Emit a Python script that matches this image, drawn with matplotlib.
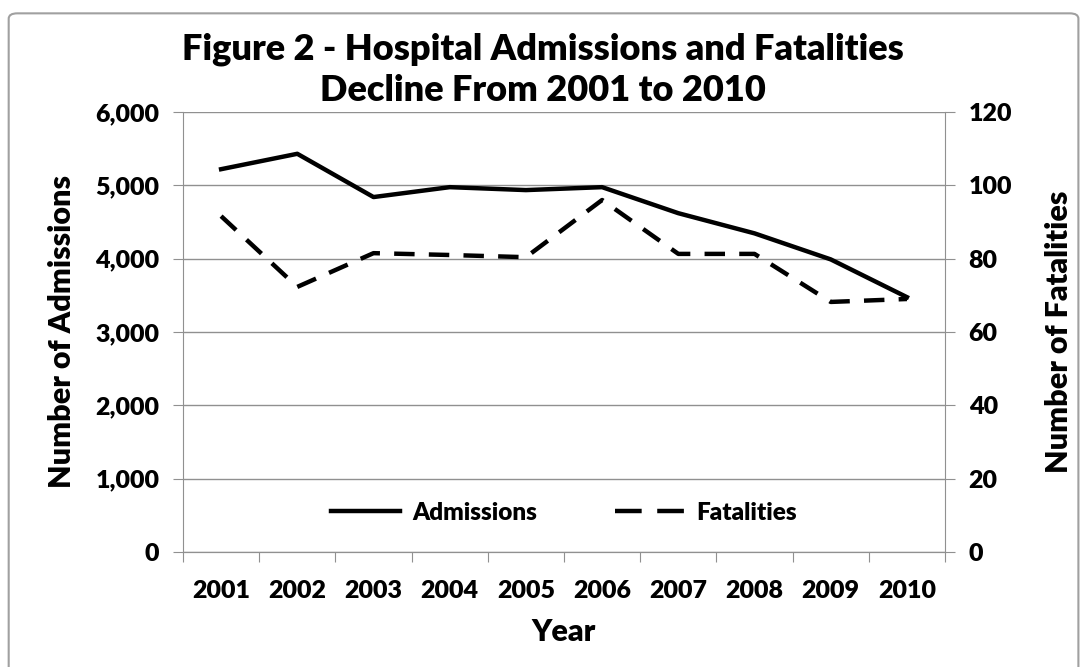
import numpy as np
import matplotlib
matplotlib.use("Agg")
import matplotlib.pyplot as plt
from matplotlib.patches import FancyBboxPatch
from matplotlib.lines import Line2D
from matplotlib.ticker import FuncFormatter

years = ["2001", "2002", "2003", "2004", "2005", "2006", "2007", "2008", "2009", "2010"]
admissions = [5220, 5430, 4840, 4975, 4935, 4975, 4620, 4345, 3990, 3475]
fatalities = [91.6, 72.3, 81.5, 81.0, 80.4, 96.0, 81.3, 81.3, 68.2, 69.0]

plt.rcParams['font.family'] = ['Lato', 'DejaVu Sans']
plt.rcParams['font.weight'] = 'heavy'

fig = plt.figure(figsize=(10.86, 6.67), dpi=100)
ax = fig.add_axes([0.1685, 0.1724, 0.7017, 0.6597])
ax2 = ax.twinx()

# outer frame like the Excel chart area
fig.patches.append(FancyBboxPatch((0.008, -0.02), 0.985, 1.0, boxstyle="round,pad=0,rounding_size=0.008",
                                  transform=fig.transFigure, fill=False, edgecolor="#a0a0a0", lw=1.5))

x = np.arange(len(years))
l1, = ax.plot(x, admissions, color="black", lw=3.2, label="Admissions")
l2, = ax2.plot(x, fatalities, color="black", lw=3.2, dashes=(4.6, 3.2), label="Fatalities")

ax.set_xlim(-0.5, 9.5)
ax.set_ylim(0, 6000)
ax2.set_ylim(0, 120)
ax.set_yticks(np.arange(0, 6001, 1000))
ax2.set_yticks(np.arange(0, 121, 20))
ax.yaxis.set_major_formatter(FuncFormatter(lambda v, p: f"{int(v):,}"))

ax.set_xticks(np.arange(-0.5, 10, 1))
ax.set_xticklabels([])
ax.set_xticks(x, minor=True)
ax.set_xticklabels(years, minor=True)
ax.tick_params(axis="x", which="minor", length=0, pad=20, labelsize=18)
ax.tick_params(axis="x", which="major", length=7, color="#909090")
ax.tick_params(axis="y", length=7, color="#909090", labelsize=18, pad=10)
ax2.tick_params(axis="y", length=7, color="#909090", labelsize=18, pad=10)

ax.grid(axis="y", color="#909090", lw=1)
ax.set_axisbelow(True)
for a in (ax, ax2):
    a.spines["top"].set_visible(False)
    a.spines["left"].set_color("#909090")
    a.spines["right"].set_color("#909090")
    a.spines["bottom"].set_color("#909090")
ax.spines["right"].set_visible(False)
ax2.spines["left"].set_visible(False)

ax.set_xlabel("Year", fontsize=22, fontweight="heavy", labelpad=12)
ax.set_ylabel("Number of Admissions", fontsize=22, fontweight="heavy", labelpad=14)
ax2.set_ylabel("Number of Fatalities", fontsize=22, fontweight="heavy", labelpad=24)

fig.suptitle("Figure 2 - Hospital Admissions and Fatalities\nDecline From 2001 to 2010",
             fontsize=26, fontweight="heavy", y=0.952, linespacing=1.3)

# legend proxies so the dashed key shows two whole dashes
h1 = Line2D([], [], color="black", lw=3.2)
h2 = Line2D([], [], color="black", lw=3.2, dashes=(6, 3.5))
ax.legend(handles=[h1, h2], labels=[l1.get_label(), l2.get_label()], loc="lower center",
          bbox_to_anchor=(0.5, 0.015), ncol=2, frameon=False,
          fontsize=17.5, handlelength=2.83, columnspacing=3.2, handletextpad=0.5)

fig.savefig("out.png", dpi=100)
